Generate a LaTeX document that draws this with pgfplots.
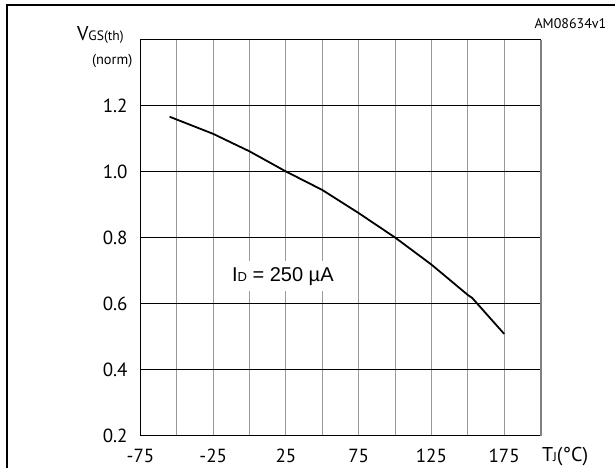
\documentclass[border=0pt]{standalone}
\usepackage{fontspec}
\setmainfont{PT Sans}
\newfontfamily\arial{Liberation Sans}
\usepackage{pgfplots}
\pgfplotsset{compat=1.18}
\begin{document}
\begin{tikzpicture}[x=1pt,y=1pt]
\useasboundingbox (0,0) rectangle (307.5,234);
\draw[line width=1.15pt] (3.4,0) -- (3.4,231.6) -- (307.5,231.6);
\begin{axis}[
  at={(70.25pt,16.25pt)}, anchor=south west,
  scale only axis, width=200pt, height=198pt,
  xmin=-75, xmax=200, ymin=0.2, ymax=1.4,
  xtick={-75,-50,-25,0,25,50,75,100,125,150,175,200},
  xticklabels={-75,,-25,,25,,75,,125,,175,},
  ytick={0.2,0.4,0.6,0.8,1.0,1.2,1.4},
  yticklabels={0.2,0.4,0.6,0.8,1.0,1.2,},
  major tick length=0pt,
  grid=major,
  x grid style={gray!80, line width=0.5pt},
  y grid style={black, line width=0.5pt},
  axis line style={black, line width=0.55pt},
  tick label style={font=\fontsize{9.5}{11}\selectfont},
  xticklabel style={anchor=north, inner sep=0pt, yshift=-6.4pt},
  yticklabel style={anchor=east, inner sep=0pt, xshift=-6.25pt},
  clip=false,
]
\addplot[black, line width=0.9pt, no marks] coordinates {
  (-55,1.166) (-25,1.114) (0,1.061) (25,1.0) (50,0.944) (75,0.874)
  (100,0.8) (125,0.718) (150,0.626) (153,0.617) (175,0.508)
};
\draw[gray, line width=1pt] (axis cs:200,0.2) -- (axis cs:200,1.4);
\node[anchor=base west, fill=white, inner xsep=2pt, inner ysep=3pt] at (axis cs:-15.05,0.668)
  {\arial\fontsize{10}{12}\selectfont I\fontsize{6.5}{8}\selectfont D\fontsize{10}{12}\selectfont{} = 250 µA};
\end{axis}
\node[anchor=base west, inner sep=0pt] at (38.35,213.65) {\fontsize{10}{12}\selectfont V\fontsize{6.8}{8}\selectfont GS(th)};
\node[anchor=base east, inner sep=0pt] at (66.35,202) {\fontsize{7.2}{8}\selectfont (norm)};
\node[anchor=base east, inner sep=0pt] at (303.35,219.85) {\fontsize{7}{8}\selectfont AM08634v1};
\node[anchor=base west, inner sep=0pt] at (270.85,3.15) {\fontsize{10}{12}\selectfont T\fontsize{6.5}{8}\selectfont J\fontsize{10}{12}\selectfont(°C)};
\end{tikzpicture}
\end{document}
